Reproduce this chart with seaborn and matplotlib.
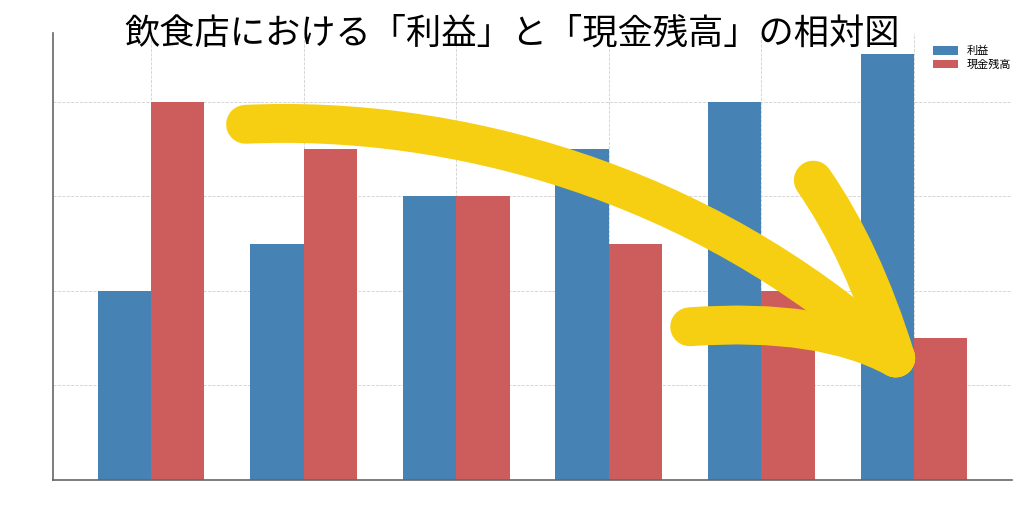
import numpy as np
import pandas as pd
import matplotlib
matplotlib.use("Agg")
import matplotlib.pyplot as plt
import seaborn as sns
from matplotlib.path import Path
from matplotlib.patches import PathPatch

# --- data ---------------------------------------------------------------
groups = ["A", "B", "C", "D", "E", "F"]
profit = [2.0, 2.5, 3.0, 3.5, 4.0, 4.5]
cash = [4.0, 3.5, 3.0, 2.5, 2.0, 1.5]
series_names = ["利益", "現金残高"]
title = "飲食店における「利益」と「現金残高」の相対図"

df = pd.DataFrame({
    "group": groups * 2,
    "value": profit + cash,
    "series": [series_names[0]] * len(groups) + [series_names[1]] * len(groups),
})

sns.set_style("white")
plt.rcParams["font.family"] = ["Noto Sans CJK JP", "DejaVu Sans"]
plt.rcParams["text.color"] = "black"

fig = plt.figure(figsize=(10.24, 5.12), dpi=100)
ax = fig.add_axes([0.052, 0.0625, 0.936, 0.873])

sns.barplot(data=df, x="group", y="value", hue="series",
            palette=["#4682b4", "#cd5c5c"], width=0.7, gap=0,
            saturation=1, linewidth=0, ax=ax, legend=True)

ax.set_xlim(-0.64, 5.64)
ax.set_ylim(0, 4.725)
ax.set_yticks([1, 2, 3, 4])
ax.set_xticks(range(len(groups)))
ax.set_xticklabels([])
ax.set_yticklabels([])
ax.set_xlabel("")
ax.set_ylabel("")
ax.grid(True, linestyle="--", color="#d0d0d0", linewidth=0.6)
ax.set_axisbelow(True)
ax.tick_params(axis="both", length=3, width=0.8, color="#666666", direction="out")
for side in ["top", "right"]:
    ax.spines[side].set_visible(False)
for side in ["left", "bottom"]:
    ax.spines[side].set_color("#666666")
    ax.spines[side].set_linewidth(1.2)

leg = ax.legend(loc="upper right", bbox_to_anchor=(0.997, 0.93),
                bbox_transform=fig.transFigure, frameon=False, fontsize=8,
                handlelength=2.2, handleheight=0.8, labelspacing=0.3)
for t in leg.get_texts():
    t.set_color("black")

fig.text(0.5, 0.935, title, ha="center", va="center", fontsize=25.4,
         color="black")

# --- hand-drawn yellow arrow (annotation) --------------------------------
yellow = "#f7cf12"
strokes = [
    ([(0.62, 3.76), (1.96, 3.86), (3.60, 3.17), (4.88, 1.29)],
     [Path.MOVETO, Path.CURVE4, Path.CURVE4, Path.CURVE4]),
    ([(4.34, 3.17), (4.66, 2.43), (4.88, 1.29)],
     [Path.MOVETO, Path.CURVE3, Path.CURVE3]),
    ([(3.53, 1.62), (4.39, 1.72), (4.88, 1.29)],
     [Path.MOVETO, Path.CURVE3, Path.CURVE3]),
]
for verts, codes in strokes:
    patch = PathPatch(Path(verts, codes), facecolor="none", edgecolor=yellow,
                      linewidth=28, capstyle="round", joinstyle="round",
                      zorder=5)
    ax.add_patch(patch)

fig.savefig("out.png", dpi=100)
